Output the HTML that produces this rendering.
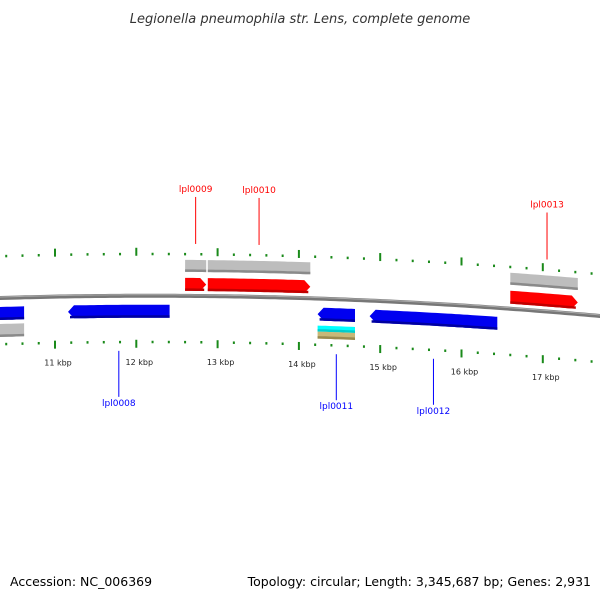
<!DOCTYPE html>
<html><head><meta charset="utf-8"><style>
html,body{margin:0;padding:0;background:#fff;}
svg{display:block;font-family:"DejaVu Sans","Liberation Sans",sans-serif;}
</style></head><body>
<svg id="map" width="600" height="600" viewBox="0 0 600 600">
<text x="300" y="23" text-anchor="middle" font-size="13" font-style="italic" fill="#333">Legionella pneumophila str. Lens, complete genome</text>
<g id="ticks"></g>
<g id="backbone"></g>
<g id="genes"></g>
<g id="labels"></g>
<text x="10" y="586" font-size="12.5" fill="#000">Accession: NC_006369</text>
<text x="591" y="586" text-anchor="end" font-size="12.5" fill="#000">Topology: circular; Length: 3,345,687 bp; Genes: 2,931</text>
</svg>
<script>
const tickKbp = [11, 12, 13, 14, 15, 16, 17];
const tickLabels = ["11 kbp", "12 kbp", "13 kbp", "14 kbp", "15 kbp", "16 kbp", "17 kbp"];
const geneNames = ["lpl0007", "lpl0008", "lpl0009", "lpl0010", "lpl0011", "lpl0012", "lpl0013"];
const geneStarts = [10.26, 11.16, 12.60, 12.88, 14.23, 14.87, 16.60];
const geneEnds = [10.62, 12.41, 12.86, 14.14, 14.69, 16.44, 17.43];
const geneStrand = [-1, -1, 1, 1, -1, -1, 1];
const geneLabeled = [false, true, true, true, true, true, true];

const NS = "http://www.w3.org/2000/svg";
function xs(k){ return 55 + (k - 11) * 81.3; }
function cy(x){ return 295.75 + (x - 150) * (x - 150) / 10000; }
function mk(tag, attrs, parent){
  const e = document.createElementNS(NS, tag);
  for (const k in attrs) e.setAttribute(k, attrs[k]);
  parent.appendChild(e); return e;
}
const gT = document.getElementById('ticks');
const gB = document.getElementById('backbone');
const gG = document.getElementById('genes');
const gL = document.getElementById('labels');

// backbone
let d = "";
for (let x = -5; x <= 605; x += 5) d += (x === -5 ? "M" : "L") + x + "," + cy(x).toFixed(2);
const bb = mk('path', {d: d, stroke: "#777", "stroke-width": 4, fill: "none"}, gB);


const bb2 = mk('path', {d: d, stroke: "#aaa", "stroke-width": 1, fill: "none", transform: "translate(0,-1)"}, gB);



// ticks
for (let k = 10; k <= 17.9; k += 0.2) {
  const kk = Math.round(k * 10) / 10;
  const x = xs(kk);
  if (x < -2 || x > 602) continue;
  const major = Math.abs(kk - Math.round(kk)) < 0.01;
  const y = cy(x);
  [[-48, -40, -43], [44, 52, 45]].forEach(function(r, i){
    let t;
    if (major) t = mk('rect', {x: x - 1, y: y + r[0], width: 2, height: 8, fill: "#1a8a1a"}, gT);
    else t = mk('rect', {x: x - 1, y: y + r[2], width: 2, height: 2.5, fill: "#1a8a1a"}, gT);
    
    
  });
}
tickKbp.forEach(function(k, i){
  const x = xs(k);
  const t = mk('text', {x: x + 3, y: cy(x) + 69, "text-anchor": "middle", "font-size": 8, fill: "#222"}, gT);
  t.textContent = tickLabels[i];
  
  
});

// gene shapes
function band(x1, x2, o1, o2, dir, head){
  const pts = [];
  const step = 4;
  let a = x1, b = x2;
  if (head) { if (dir > 0) b = x2 - 6; else a = x1 + 6; }
  for (let x = a; x <= b; x += step) pts.push([x, cy(x) + o1]);
  pts.push([b, cy(b) + o1]);
  if (head && dir > 0) pts.push([x2, cy(x2) + (o1 + o2) / 2]);
  pts.push([b, cy(b) + o2]);
  for (let x = b; x >= a; x -= step) pts.push([x, cy(x) + o2]);
  pts.push([a, cy(a) + o2]);
  if (head && dir < 0) pts.push([x1, cy(x1) + (o1 + o2) / 2]);
  return pts.map(function(p){ return p[0].toFixed(1) + "," + p[1].toFixed(1); }).join(" ");
}
function drawBand(x1, x2, o1, o2, dir, head, fill, dark, name){
  const p = mk('polygon', {points: band(x1, x2, o1, o2, dir, head), fill: fill}, gG);
  
  
  const s = mk('polygon', {points: band(x1 + (head && dir < 0 ? 2 : 0), x2 - (head && dir > 0 ? 2 : 0), o2 - 2.5, o2, dir, false), fill: dark}, gG);
  
  
}
geneNames.forEach(function(n, i){
  const x1 = xs(geneStarts[i]), x2 = xs(geneEnds[i]);
  const dir = geneStrand[i];
  const head = !(i === 0);
  if (dir > 0) {
    drawBand(x1, x2, -36, -24, dir, false, "#bdbdbd", "#8a8a8a", n + '-feature');
    drawBand(x1, x2, -18, -5, dir, head, "#ff0000", "#c00000", n + '-cds');
  } else {
    drawBand(x1, x2, 9, 22, dir, head, "#0000f0", "#0000a0", n + '-cds');
    if (i === 0) drawBand(x1, x2, 26, 39, dir, false, "#bdbdbd", "#8a8a8a", n + '-feature');
    if (n === "lpl0011") {
      drawBand(x1, x2, 27, 33, dir, false, "#00ffff", "#00cccc", n + '-misc');
      drawBand(x1, x2, 33, 40, dir, false, "#c8b878", "#9a8a50", n + '-repeat');
    }
  }
  if (!geneLabeled[i]) return;
  const mx = (x1 + x2) / 2;
  const lx = dir > 0 ? (n === "lpl0013" ? mx + 3 : mx) : mx;
  const col = dir > 0 ? "#ff0000" : "#0000ff";
  let ly1, ly2, ty;
  if (dir > 0) { ly2 = cy(lx) - 52; ly1 = ly2 - 47; ty = ly1 - 5; }
  else { ly1 = cy(lx) + 55; ly2 = ly1 + 46; ty = ly2 + 9; }
  const l = mk('line', {x1: lx, y1: ly1, x2: lx, y2: ly2, stroke: col, "stroke-width": 1}, gL);
  
  
  const t = mk('text', {x: lx, y: ty, "text-anchor": "middle", "font-size": 9, fill: col}, gL);
  t.textContent = n;
  
  
});
</script>
</body></html>
